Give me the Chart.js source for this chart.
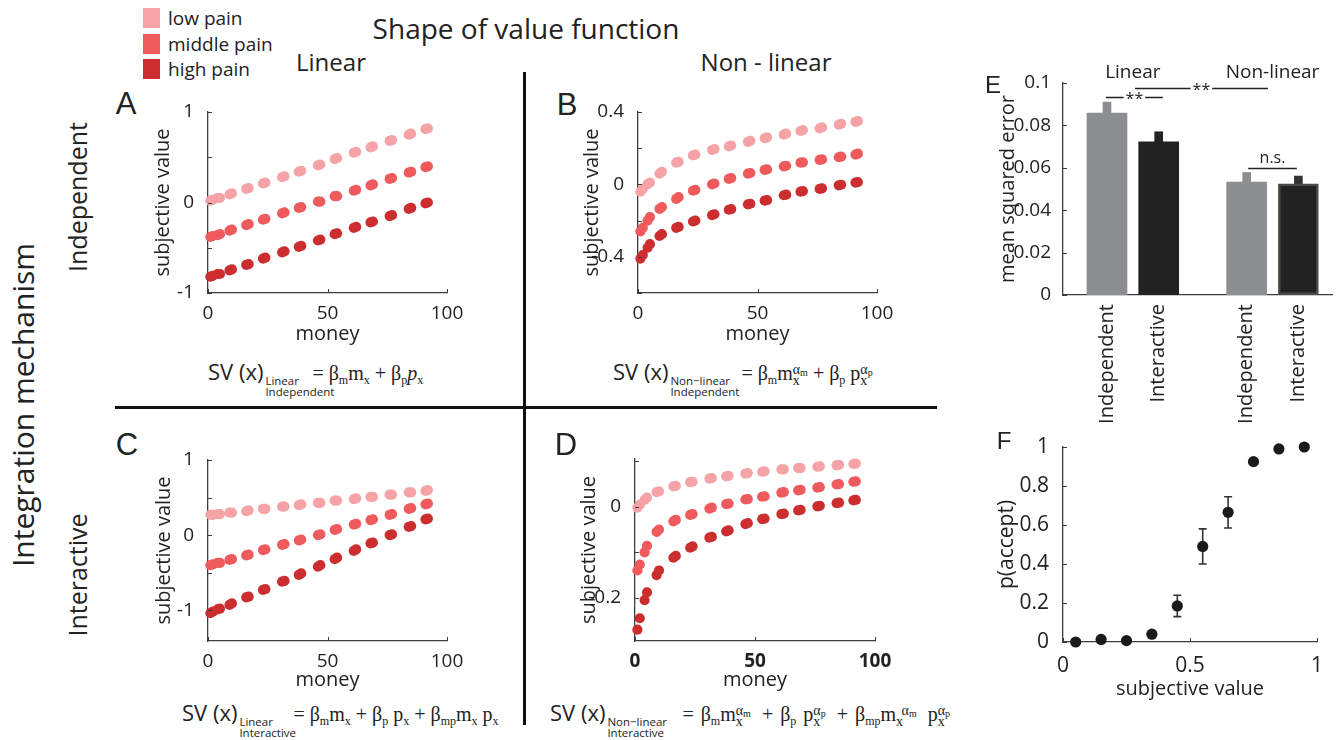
<!DOCTYPE html>
<html><head><meta charset="utf-8">
<script src="https://cdn.jsdelivr.net/npm/chart.js@4.4.1/dist/chart.umd.min.js"></script>
<style>
body{margin:0;width:1339px;height:740px;background:#fff;position:relative;overflow:hidden;font-family:'Open Sans',sans-serif;color:#222}
canvas{position:absolute}
.t{position:absolute;white-space:nowrap;line-height:1}
.c{transform:translate(-50%,-50%)}
.rot{transform:translate(-50%,-50%) rotate(-90deg)}
.let{font-family:'Liberation Sans',Arial,sans-serif}
.leg{position:absolute;left:143px;height:20px;font-size:19px;line-height:20px;display:flex;align-items:center;gap:8px;white-space:nowrap}
.leg i{display:inline-block;width:17px;height:20px}
.fm{position:absolute;white-space:nowrap;font-size:22px;line-height:24px;height:24px;color:#222}
.fm .sv{font-family:'Open Sans'}
.stk{display:inline-block;vertical-align:-16px;font-size:11.5px;line-height:11px;font-family:'Open Sans'}
.stk b,.sc b{display:block;font-weight:normal;white-space:nowrap}
.mt{font-family:'Liberation Serif',serif;font-size:20px}
.mt sub{font-size:12px;vertical-align:-4px;line-height:0}
.sc{display:inline-block;vertical-align:-5px;font-size:14px;line-height:11px}
.sc sub{font-size:10px;vertical-align:-2px}
.wide .mt{word-spacing:2px}
.wide .sc{margin-right:4px}
.ln{position:absolute;background:#111}
</style></head>
<body>
<canvas id="cA"></canvas><canvas id="cB"></canvas><canvas id="cC"></canvas><canvas id="cD"></canvas><canvas id="cE"></canvas><canvas id="cF"></canvas>

<div class="leg" style="top:8px"><i style="background:#f5a3a7"></i>low pain</div>
<div class="leg" style="top:34px"><i style="background:#ef5a5d"></i>middle pain</div>
<div class="leg" style="top:59px"><i style="background:#cc2e30"></i>high pain</div>
<div class="t c" style="left:526px;top:28px;font-size:28px">Shape of value function</div>
<div class="t c" style="left:331px;top:62px;font-size:24px">Linear</div>
<div class="t c" style="left:766px;top:62px;font-size:24px">Non - linear</div>
<div class="t rot" style="left:23px;top:405px;font-size:30px">Integration mechanism</div>
<div class="t rot" style="left:77px;top:197px;font-size:25px">Independent</div>
<div class="t rot" style="left:77px;top:575px;font-size:25px">Interactive</div>
<div class="t c let" style="left:126px;top:103px;font-size:31px">A</div>
<div class="t c let" style="left:567px;top:104px;font-size:31px">B</div>
<div class="t c let" style="left:127px;top:444px;font-size:31px">C</div>
<div class="t c let" style="left:566px;top:444px;font-size:31px">D</div>
<div class="t c let" style="left:993px;top:85px;font-size:24px">E</div>
<div class="t c let" style="left:1004px;top:441px;font-size:24px">F</div>
<div class="ln" style="left:523px;top:72px;width:3px;height:653px"></div>
<div class="ln" style="left:115px;top:406px;width:822px;height:3px"></div>

<div class="fm" style="left:208px;top:359px"><span class="sv">SV (x)</span><span class="stk" style="width:47px;margin-left:2px"><b>Linear</b><b>Independent</b></span><span class="mt">= β<sub>m</sub>m<sub>x</sub> + β<sub>p</sub><i>p</i><sub>x</sub></span></div>
<div class="fm" style="left:613px;top:359px"><span class="sv">SV (x)</span><span class="stk" style="width:71px;margin-left:2px"><b>Non−linear</b><b>Independent</b></span><span class="mt">= β<sub>m</sub>m<span class="sc"><b>α<sub>m</sub></b><b>x</b></span> + β<sub>p</sub> p<span class="sc"><b>α<sub>p</sub></b><b>x</b></span></span></div>
<div class="fm" style="left:182px;top:700px"><span class="sv">SV (x)</span><span class="stk" style="width:54px;margin-left:2px"><b>Linear</b><b>Interactive</b></span><span class="mt">= β<sub>m</sub>m<sub>x</sub> + β<sub>p</sub> p<sub>x</sub> + β<sub>mp</sub>m<sub>x</sub> p<sub>x</sub></span></div>
<div class="fm wide" style="left:550px;top:700px"><span class="sv">SV (x)</span><span class="stk" style="width:75px;margin-left:2px"><b>Non−linear</b><b>Interactive</b></span><span class="mt">= β<sub>m</sub>m<span class="sc"><b>α<sub>m</sub></b><b>x</b></span> + β<sub>p</sub> p<span class="sc"><b>α<sub>p</sub></b><b>x</b></span> + β<sub>mp</sub>m<span class="sc"><b>&nbsp;α<sub>m</sub></b><b>x</b></span> p<span class="sc"><b>α<sub>p</sub></b><b>x</b></span></span></div>

<script>
// ---------- data ----------
const painLevels = ['low pain', 'middle pain', 'high pain'];
const money = [1, 2, 4, 5, 9, 10, 16, 17, 23, 24, 31, 32, 38, 39, 46, 47, 53, 54, 61, 62, 68, 69, 76, 77, 84, 85, 91, 92];

const A_low  = [0.02,0.03,0.05,0.05,0.09,0.10,0.15,0.16,0.21,0.22,0.28,0.29,0.34,0.35,0.41,0.42,0.48,0.49,0.55,0.56,0.61,0.62,0.68,0.69,0.75,0.76,0.81,0.82];
const A_mid  = [-0.38,-0.37,-0.36,-0.35,-0.31,-0.30,-0.25,-0.24,-0.19,-0.18,-0.12,-0.11,-0.06,-0.05,0.01,0.01,0.07,0.07,0.13,0.14,0.19,0.20,0.26,0.27,0.33,0.34,0.39,0.40];
const A_high = [-0.82,-0.81,-0.79,-0.79,-0.75,-0.74,-0.69,-0.68,-0.62,-0.61,-0.55,-0.54,-0.49,-0.48,-0.42,-0.41,-0.35,-0.34,-0.28,-0.27,-0.22,-0.21,-0.15,-0.14,-0.07,-0.06,-0.01,0.00];

const B_low  = [-0.04,-0.025,0.00,0.01,0.06,0.07,0.12,0.125,0.16,0.165,0.19,0.195,0.21,0.215,0.235,0.24,0.255,0.26,0.275,0.28,0.295,0.30,0.31,0.315,0.33,0.335,0.345,0.35];
const B_mid  = [-0.26,-0.24,-0.20,-0.18,-0.135,-0.125,-0.08,-0.07,-0.035,-0.03,0.00,0.005,0.03,0.035,0.06,0.063,0.08,0.083,0.10,0.103,0.12,0.122,0.135,0.138,0.15,0.153,0.165,0.17];
const B_high = [-0.41,-0.39,-0.35,-0.33,-0.285,-0.275,-0.24,-0.235,-0.205,-0.20,-0.17,-0.165,-0.14,-0.137,-0.11,-0.107,-0.09,-0.087,-0.06,-0.057,-0.04,-0.037,-0.025,-0.022,-0.005,-0.002,0.01,0.013];

const C_low  = [0.27,0.27,0.28,0.28,0.30,0.30,0.32,0.33,0.35,0.35,0.38,0.38,0.40,0.41,0.43,0.43,0.46,0.46,0.48,0.49,0.51,0.51,0.54,0.54,0.57,0.57,0.59,0.60];
const C_mid  = [-0.40,-0.39,-0.37,-0.37,-0.33,-0.32,-0.27,-0.26,-0.20,-0.19,-0.13,-0.12,-0.07,-0.06,0.00,0.01,0.07,0.08,0.14,0.15,0.20,0.21,0.27,0.28,0.35,0.36,0.41,0.42];
const C_high = [-1.04,-1.02,-0.99,-0.98,-0.93,-0.91,-0.83,-0.82,-0.73,-0.72,-0.62,-0.61,-0.53,-0.51,-0.42,-0.40,-0.32,-0.30,-0.21,-0.19,-0.11,-0.10,0.00,0.01,0.11,0.12,0.21,0.22];

const D_low  = [-0.002,0.004,0.015,0.02,0.032,0.034,0.045,0.046,0.054,0.055,0.062,0.063,0.067,0.068,0.073,0.074,0.077,0.078,0.082,0.082,0.085,0.085,0.088,0.089,0.091,0.092,0.094,0.095];
const D_mid  = [-0.14,-0.127,-0.10,-0.086,-0.055,-0.05,-0.032,-0.029,-0.018,-0.016,-0.004,-0.002,0.006,0.007,0.016,0.017,0.022,0.023,0.031,0.032,0.036,0.037,0.042,0.043,0.049,0.05,0.055,0.056];
const D_high = [-0.27,-0.245,-0.205,-0.188,-0.15,-0.14,-0.112,-0.108,-0.09,-0.087,-0.068,-0.066,-0.054,-0.052,-0.038,-0.036,-0.027,-0.026,-0.016,-0.015,-0.008,-0.007,0.001,0.002,0.008,0.009,0.014,0.015];

const moneyTicks = [0, 50, 100];
const moneyTickLabels = ['0', '50', '100'];
const A_yTicks = [-1, -0.5, 0, 0.5, 1];      const A_yLabels = ['-1', '', '0', '', '1'];
const B_yTicks = [-0.6, -0.4, -0.2, 0, 0.2, 0.4]; const B_yLabels = ['', '-0.4', '', '0', '', '0.4'];
const C_yTicks = [-1, -0.5, 0, 0.5, 1];      const C_yLabels = ['-1', '', '0', '', '1'];
const D_yTicks = [-0.2, -0.1, 0, 0.1];       const D_yLabels = ['-0.2', '', '0', ''];

const E_models = ['Independent', 'Interactive', 'Independent', 'Interactive'];
const E_groups = ['Linear', 'Non-linear'];
const E_barX = [0.85, 1.85, 3.55, 4.55];
const E_mse = [0.0858, 0.0722, 0.0533, 0.0524];
const E_sem = [0.0052, 0.0048, 0.0045, 0.0037];
const E_yTicks = [0, 0.02, 0.04, 0.06, 0.08, 0.1];
const E_yLabels = ['0', '0.02', '0.04', '0.06', '0.08', '0.1'];
const E_sigText = ['**', '**', 'n.s.'];
const E_sigFrom = [0.83, 1.39, 3.58];
const E_sigTo   = [1.93, 3.96, 4.52];
const E_sigY    = [0.0934, 0.0978, 0.0599];

const F_sv = [0.05, 0.15, 0.25, 0.35, 0.45, 0.55, 0.65, 0.75, 0.85, 0.95];
const F_p  = [0.0, 0.013, 0.007, 0.04, 0.185, 0.49, 0.665, 0.925, 0.99, 1.0];
const F_lo = [0.0, 0.008, 0.003, 0.03, 0.13, 0.40, 0.585, 0.91, 0.985, 0.997];
const F_hi = [0.005, 0.018, 0.011, 0.05, 0.24, 0.58, 0.745, 0.94, 0.995, 1.0];
const F_xTicks = [0, 0.5, 1];            const F_xLabels = ['0', '0.5', '1'];
const F_yTicks = [0, 0.2, 0.4, 0.6, 0.8, 1]; const F_yLabels = ['0', '0.2', '0.4', '0.6', '0.8', '1'];

// ---------- styling / helpers ----------
Chart.defaults.font.family = "'Open Sans', sans-serif";
Chart.defaults.color = '#222';
const painColors = ['#f5a3a7', '#ef5a5d', '#cc2e30'];
const AXIS = '#3c3c3c';

const inTicks = {
  id: 'inTicks',
  afterDraw(chart, args, opts) {
    const {ctx, chartArea: a} = chart;
    const sx = chart.scales.x, sy = chart.scales.y;
    ctx.save(); ctx.strokeStyle = AXIS; ctx.lineWidth = 1;
    if (opts.x !== false) sx.ticks.forEach(t => { const p = Math.round(sx.getPixelForValue(t.value)) + 0.5; ctx.beginPath(); ctx.moveTo(p, a.bottom); ctx.lineTo(p, a.bottom - 4); ctx.stroke(); });
    if (opts.y !== false) sy.ticks.forEach(t => { const p = Math.round(sy.getPixelForValue(t.value)) + 0.5; ctx.beginPath(); ctx.moveTo(a.left, p); ctx.lineTo(a.left + 4, p); ctx.stroke(); });
    ctx.restore();
  }
};

function axis(o) {
  return {
    type: 'linear', min: o.min, max: o.max, offset: false,
    afterBuildTicks: s => { s.ticks = o.ticks.map(v => ({value: v})); },
    afterFit: o.fit,
    ticks: {autoSkip: false, minRotation: o.rot || 0, maxRotation: o.rot || 0, padding: o.pad, color: '#222',
            font: {size: o.fs, weight: o.bold ? 'bold' : 'normal'}, callback: (v, i) => o.labels[i]},
    grid: {display: false},
    border: {display: true, color: AXIS, width: 1.3},
    title: o.title ? {display: true, text: o.title, padding: 0, color: '#222', font: {size: o.tfs || 20}} : {display: false}
  };
}

function panel(id, box, spec) {
  const cv = document.getElementById(id);
  const left = box.l - box.yw, top = box.t - box.pt;
  const w = box.r + box.pr - left, h = box.b + box.xh - top;
  Object.assign(cv.style, {left: left + 'px', top: top + 'px', width: w + 'px', height: h + 'px'});
  cv.width = w; cv.height = h;
  spec.options = Object.assign({responsive: false, animation: false, maintainAspectRatio: false, events: [],
    layout: {padding: {top: box.pt, right: box.pr, left: 0, bottom: 0}}}, spec.options);
  spec.options.plugins = Object.assign({legend: {display: false}, tooltip: {enabled: false}}, spec.options.plugins || {});
  return new Chart(cv, spec);
}

function painSets(seriesList) {
  return seriesList.map((ys, k) => ({
    label: painLevels[k],
    data: money.map((m, i) => ({x: m, y: ys[i]})),
    backgroundColor: painColors[k], borderWidth: 0, pointRadius: 5.1, clip: false
  }));
}

function svPanel(id, box, series, yMin, yMax, yTicks, yLabels, boldX) {
  return panel(id, box, {
    type: 'scatter',
    data: {datasets: painSets(series)},
    options: {
      scales: {
        x: axis({min: 0, max: 100, ticks: moneyTicks, labels: moneyTickLabels, pad: 1, fs: 19, bold: boldX,
                 title: 'money', fit: s => { s.height = box.xh; }}),
        y: axis({min: yMin, max: yMax, ticks: yTicks, labels: yLabels, pad: 6, fs: 19,
                 title: 'subjective value', fit: s => { s.width = box.yw; }})
      }
    },
    plugins: [inTicks]
  });
}

svPanel('cA', {l: 208, r: 447, t: 112, b: 293, yw: 57, xh: 53, pt: 20, pr: 30}, [A_low, A_mid, A_high], -1, 1, A_yTicks, A_yLabels);
svPanel('cB', {l: 638, r: 877, t: 112, b: 293, yw: 58, xh: 53, pt: 20, pr: 30}, [B_low, B_mid, B_high], -0.6, 0.4, B_yTicks, B_yLabels);
svPanel('cC', {l: 208, r: 447, t: 460, b: 641, yw: 56, xh: 51, pt: 20, pr: 30}, [C_low, C_mid, C_high], -1.41, 1, C_yTicks, C_yLabels);
svPanel('cD', {l: 635, r: 875, t: 459, b: 641, yw: 58, xh: 51, pt: 20, pr: 30}, [D_low, D_mid, D_high], -0.295, 0.105, D_yTicks, D_yLabels, true);

// ---------- E ----------
const sigPlugin = {
  id: 'sig',
  afterDraw(chart) {
    const {ctx} = chart; const sx = chart.scales.x, sy = chart.scales.y;
    ctx.save(); ctx.fillStyle = '#222'; ctx.strokeStyle = '#222'; ctx.lineWidth = 1.6;
    ctx.textAlign = 'center'; ctx.textBaseline = 'middle';
    ctx.font = "19px 'Open Sans'";
    E_groups.forEach((g, i) => {
      const cx = (sx.getPixelForValue(E_barX[2 * i]) + sx.getPixelForValue(E_barX[2 * i + 1])) / 2;
      ctx.fillText(g, cx, sy.getPixelForValue(0.105));
    });
    E_sigText.forEach((txt, i) => {
      const x0 = sx.getPixelForValue(E_sigFrom[i]), x1 = sx.getPixelForValue(E_sigTo[i]);
      const y = Math.round(sy.getPixelForValue(E_sigY[i])) + 0.5, cx = (x0 + x1) / 2;
      ctx.beginPath();
      if (txt === 'n.s.') {
        ctx.moveTo(x0, y); ctx.lineTo(x1, y); ctx.stroke();
        ctx.font = "16px 'Open Sans'"; ctx.fillText(txt, cx, y - 10);
      } else {
        ctx.font = "16px 'Open Sans'";
        const w = ctx.measureText(txt).width / 2 + 2;
        ctx.moveTo(x0, y); ctx.lineTo(cx - w, y); ctx.moveTo(cx + w, y); ctx.lineTo(x1, y); ctx.stroke();
        ctx.fillText(txt, cx, y + 2);
      }
    });
    ctx.restore();
  }
};
const E_box = {l: 1063, r: 1332, t: 83, b: 295, yw: 67, xh: 140, pt: 50, pr: 6};
panel('cE', E_box, {
  type: 'bar',
  data: {datasets: [
    {label: 'mean squared error', data: E_barX.map((x, i) => ({x: x, y: E_mse[i]})),
     backgroundColor: ['#8c8e91', '#222222', '#8c8e91', '#222222'],
     borderColor: ['#8c8e91', '#222222', '#8c8e91', '#4a4a4a'], borderWidth: [0, 0, 0, 2.5],
     barThickness: 40, grouped: false, borderSkipped: false},
    {label: 'sem', data: E_barX.map((x, i) => ({x: x, y: [E_mse[i], E_mse[i] + E_sem[i]]})),
     backgroundColor: ['#8c8e91', '#222222', '#8c8e91', '#333333'], borderWidth: 0,
     barThickness: 8, grouped: false}
  ]},
  options: {
    scales: {
      x: axis({min: 0, max: 5.2, ticks: E_barX, labels: E_models, pad: 1, fs: 20, rot: 90, fit: s => { s.height = E_box.xh; }}),
      y: axis({min: 0, max: 0.1, ticks: E_yTicks, labels: E_yLabels, pad: 4, fs: 19, title: 'mean squared error', fit: s => { s.width = E_box.yw; }})
    },
    plugins: {inTicks: {x: false}}
  },
  plugins: [inTicks, sigPlugin]
});

// ---------- F ----------
const errPlugin = {
  id: 'err',
  beforeDatasetsDraw(chart) {
    const {ctx} = chart; const sx = chart.scales.x, sy = chart.scales.y;
    ctx.save(); ctx.strokeStyle = '#333'; ctx.lineWidth = 1.6;
    F_sv.forEach((v, i) => {
      const px = sx.getPixelForValue(v), a = sy.getPixelForValue(F_lo[i]), b = sy.getPixelForValue(F_hi[i]);
      ctx.beginPath(); ctx.moveTo(px, a); ctx.lineTo(px, b);
      ctx.moveTo(px - 4, a); ctx.lineTo(px + 4, a); ctx.moveTo(px - 4, b); ctx.lineTo(px + 4, b); ctx.stroke();
    });
    ctx.restore();
  }
};
const F_box = {l: 1063, r: 1317, t: 447, b: 642, yw: 69, xh: 59, pt: 20, pr: 20};
panel('cF', F_box, {
  type: 'scatter',
  data: {datasets: [{label: 'p(accept)', data: F_sv.map((v, i) => ({x: v, y: F_p[i]})),
    backgroundColor: '#1a1a1a', borderWidth: 0, pointRadius: 5.6, clip: false}]},
  options: {
    scales: {
      x: axis({min: 0, max: 1, ticks: F_xTicks, labels: F_xLabels, pad: 3, fs: 21, title: 'subjective value', tfs: 20, fit: s => { s.height = F_box.xh; }}),
      y: axis({min: 0, max: 1, ticks: F_yTicks, labels: F_yLabels, pad: 6, fs: 21, title: 'p(accept)', tfs: 21, fit: s => { s.width = F_box.yw; }})
    }
  },
  plugins: [inTicks, errPlugin]
});
</script>
</body></html>
